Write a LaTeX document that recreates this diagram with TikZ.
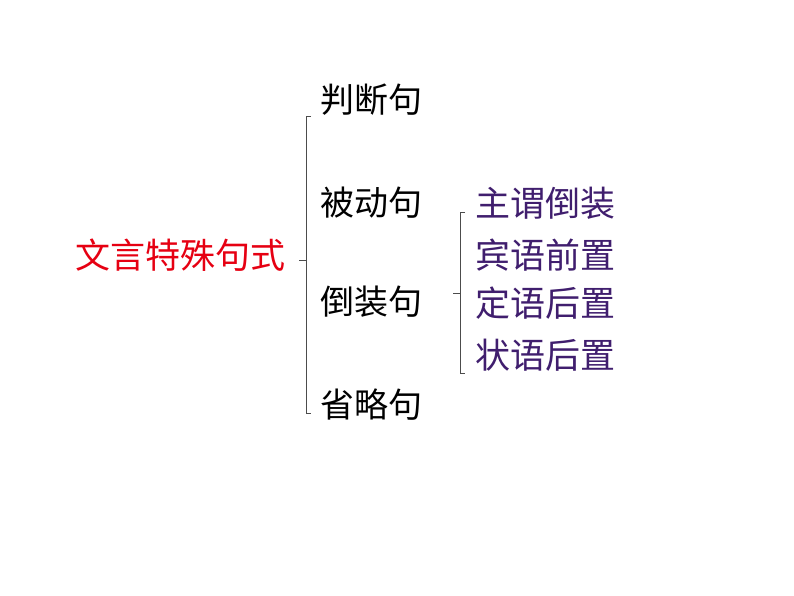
\documentclass[tikz,border=0pt]{standalone}
\usepackage{fontspec}
\newfontfamily\cjk{Noto Sans CJK SC}
\definecolor{titlered}{RGB}{230,0,18}
\definecolor{subpurple}{RGB}{64,30,110}
\begin{document}
\begin{tikzpicture}[x=1pt,y=-1pt,
  lbl/.style={anchor=west,inner sep=0pt,font=\cjk\fontsize{34}{34}\selectfont},
  big/.style={lbl,font=\cjk\fontsize{35}{35}\selectfont},
  brk/.style={draw=black!70,line width=0.8pt}]
\useasboundingbox (0,0) rectangle (794,596);
\node[big,text=titlered] (root) at (75,255) {文言特殊句式};
\node[lbl] (a) at (320,100) {判断句};
\node[lbl] (b) at (320,203) {被动句};
\node[lbl] (c) at (320,302) {倒装句};
\node[lbl] (d) at (320,405) {省略句};
\node[big,text=subpurple] (c1) at (475,203) {主谓倒装};
\node[big,text=subpurple] (c2) at (475,255) {宾语前置};
\node[big,text=subpurple] (c3) at (475,303) {定语后置};
\node[big,text=subpurple] (c4) at (475,355) {状语后置};
% big bracket
\coordinate (B1) at (311,116);
\coordinate (B2) at (306,116);
\coordinate (B3) at (306,413);
\coordinate (B4) at (311,413);
\coordinate (Bm) at (306,260);
\coordinate (Bt) at (299,260);
\draw[brk] (B1) -- (B2) -- (B3) -- (B4);
\draw[brk] (Bm) -- (Bt);
% small bracket
\coordinate (S1) at (465,212);
\coordinate (S2) at (460,212);
\coordinate (S3) at (460,373);
\coordinate (S4) at (465,373);
\coordinate (Sm) at (460,293);
\coordinate (St) at (453,293);
\draw[brk] (S1) -- (S2) -- (S3) -- (S4);
\draw[brk] (Sm) -- (St);
\end{tikzpicture}
\end{document}
